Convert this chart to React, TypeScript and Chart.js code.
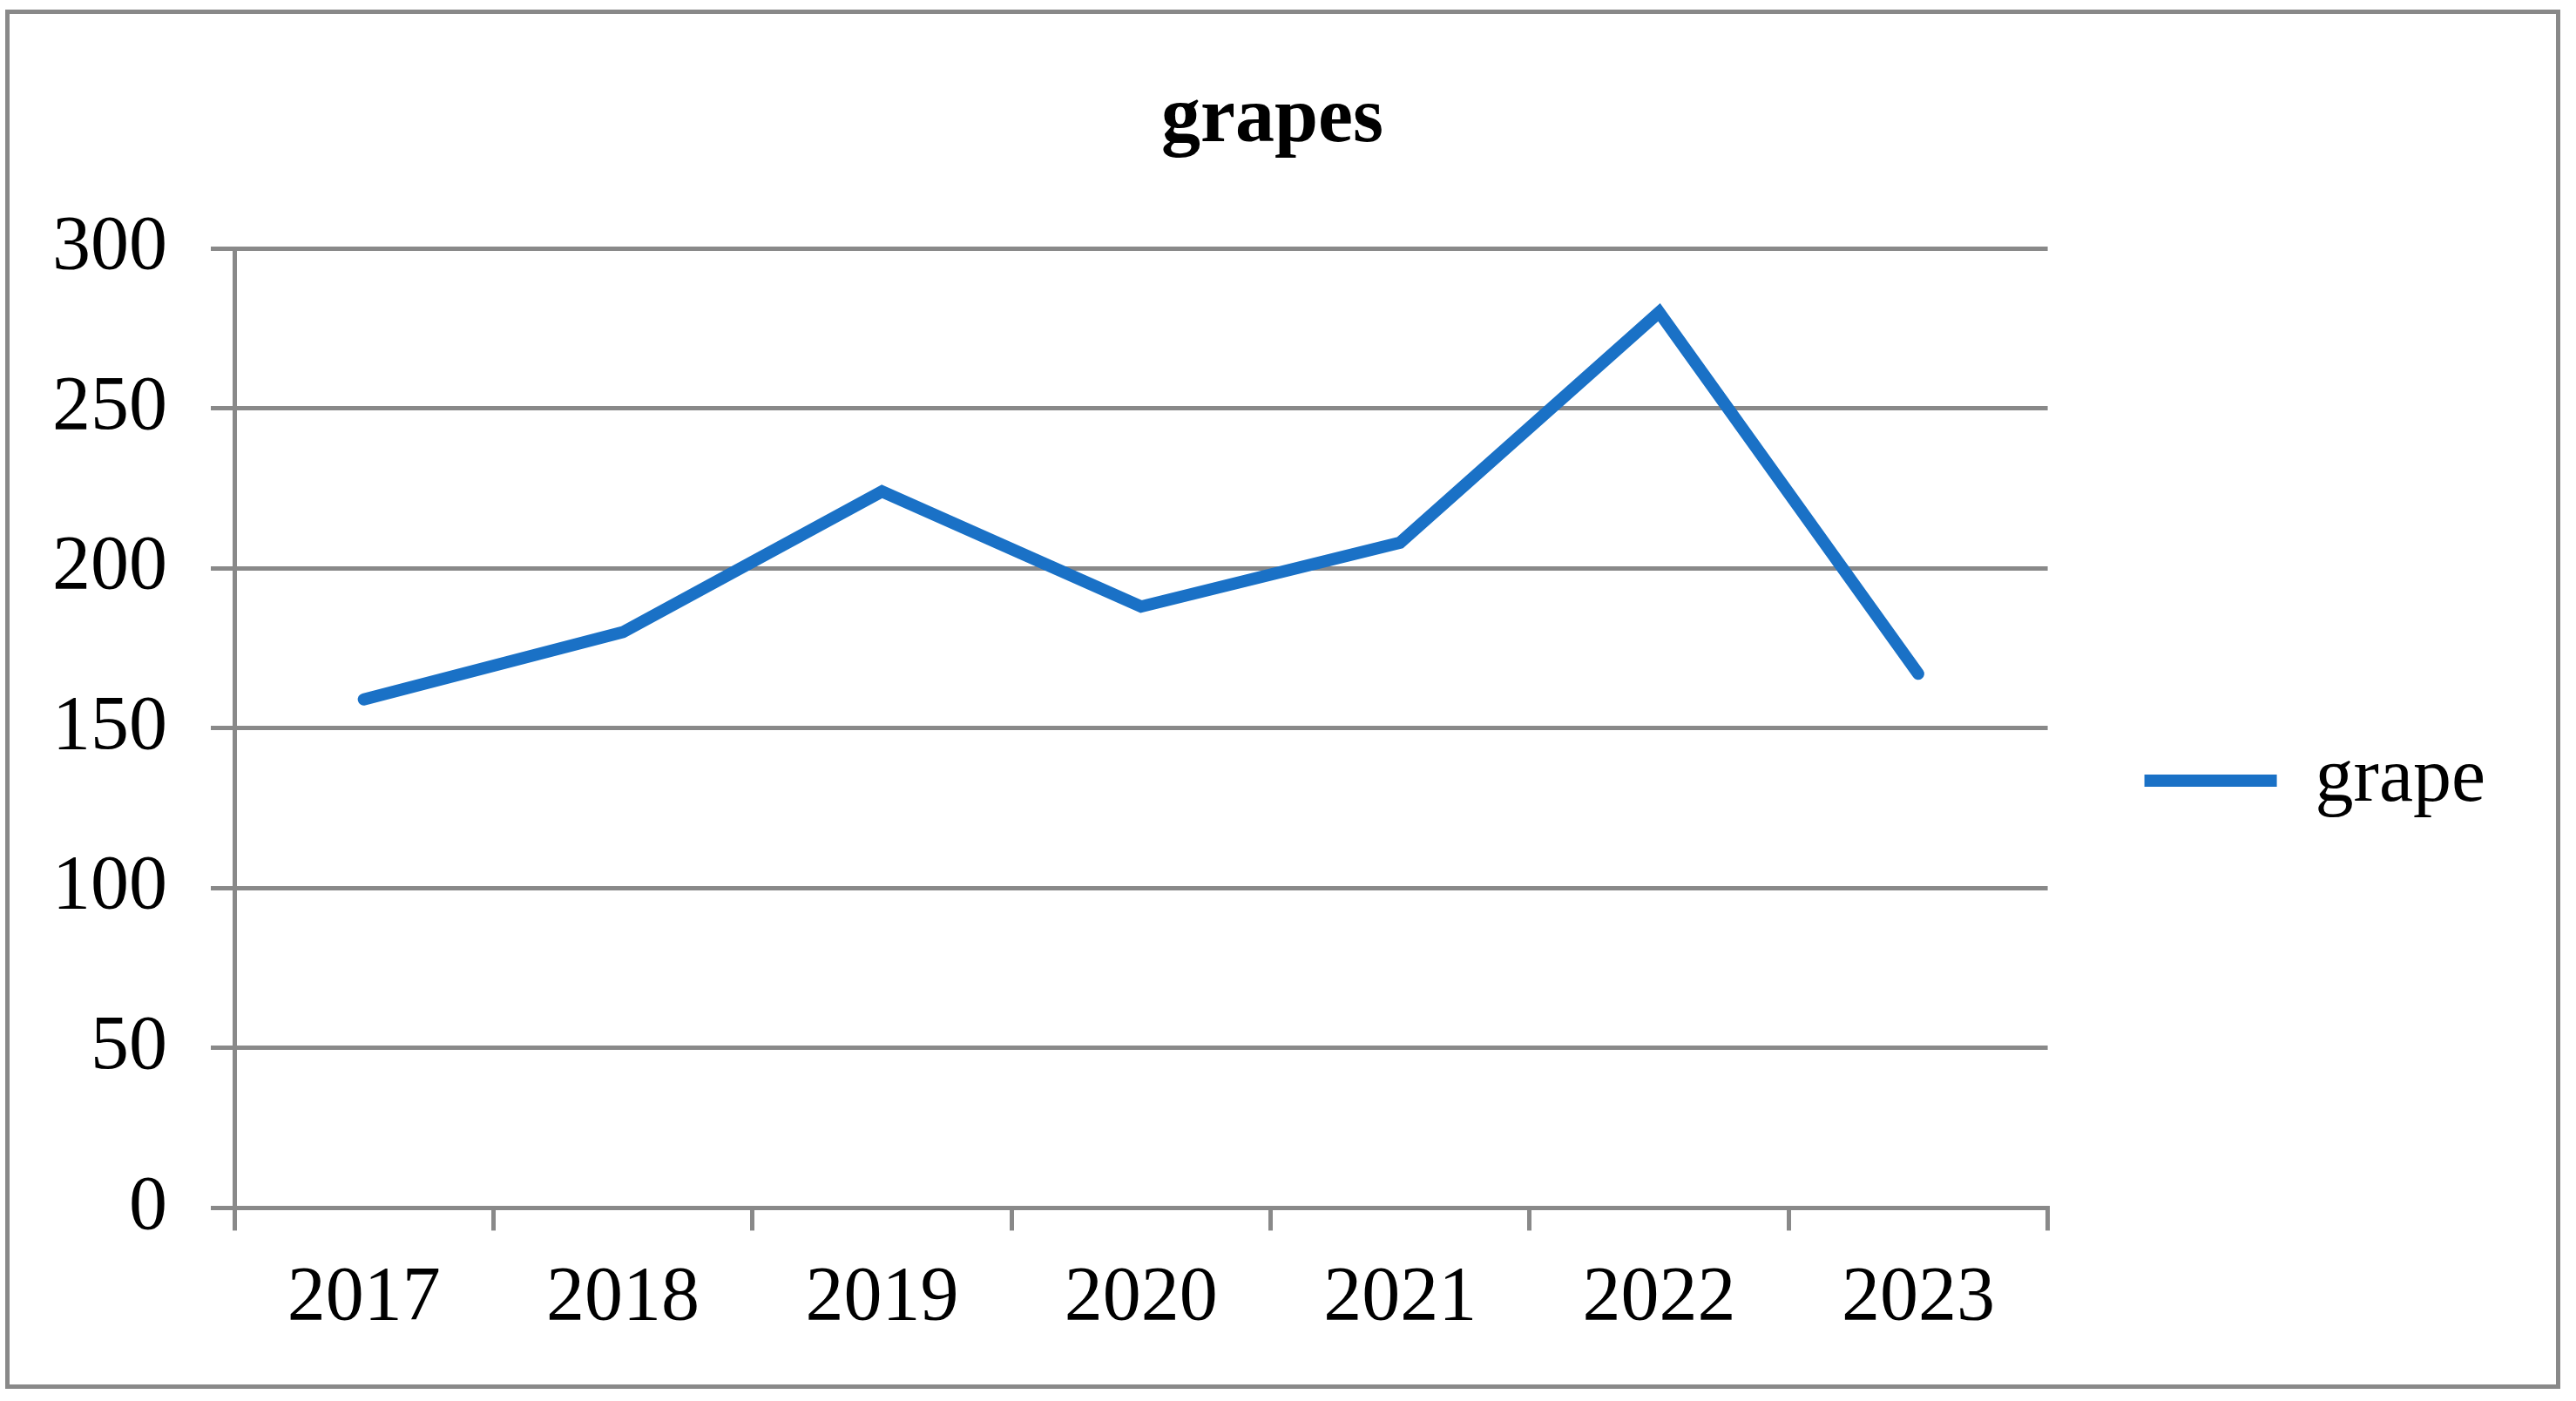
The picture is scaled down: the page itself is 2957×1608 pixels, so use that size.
import { Chart, registerables } from "chart.js";
import { useEffect, useRef } from "react";

Chart.register(...registerables);

const years = ["2017", "2018", "2019", "2020", "2021", "2022", "2023"];
const grape = [159, 180, 224, 188, 208, 280, 167];
const yTicks = [0, 50, 100, 150, 200, 250, 300];

const serif = "'Liberation Serif', 'Times New Roman', serif";
const gray = "#898989";
const blue = "#1a71c6";

export default function App() {
  const canvasRef = useRef<HTMLCanvasElement>(null);

  useEffect(() => {
    if (!canvasRef.current) return;
    const chart = new Chart(canvasRef.current, {
      type: "line",
      data: {
        labels: years,
        datasets: [
          {
            label: "grape",
            data: grape,
            borderColor: blue,
            backgroundColor: blue,
            borderWidth: 14,
            borderCapStyle: "round",
            borderJoinStyle: "miter",
            pointRadius: 0,
            tension: 0,
            fill: false,
          },
        ],
      },
      options: {
        responsive: true,
        maintainAspectRatio: false,
        animation: false,
        layout: { padding: { left: 58, right: 94, top: 20, bottom: 38 } },
        plugins: {
          tooltip: { enabled: false },
          title: {
            display: true,
            text: "grapes",
            color: "#000",
            font: { family: serif, size: 90, weight: "bold" },
            padding: { top: 65, bottom: 92 },
          },
          legend: {
            position: "right",
            // empty title only pushes the legend entry down to where it sits in the original
            title: { display: true, text: "", font: { size: 10 }, padding: { top: 190, bottom: 0 } },
            labels: {
              usePointStyle: true,
              pointStyle: "line",
              pointStyleWidth: 152,
              padding: 111,
              color: "#000",
              font: { family: serif, size: 88 },
            },
          },
        },
        scales: {
          x: {
            offset: true,
            grid: {
              display: true,
              offset: true,
              drawOnChartArea: false,
              drawTicks: true,
              tickLength: 26,
              color: gray,
              lineWidth: 5,
            },
            border: { display: true, color: gray, width: 5 },
            ticks: { color: "#000", padding: 26, maxRotation: 0, font: { family: serif, size: 88 } },
          },
          y: {
            min: 0,
            max: 300,
            afterFit: (scale) => {
              scale.width = 211;
            },
            afterBuildTicks: (scale) => {
              scale.ticks = yTicks.map((v) => ({ value: v }));
            },
            grid: { color: gray, lineWidth: 5, tickLength: 27, drawTicks: true },
            border: { display: true, color: gray, width: 5 },
            ticks: { color: "#000", padding: 50, font: { family: serif, size: 88 } },
          },
        },
      },
    });
    return () => chart.destroy();
  }, []);

  return (
    <div style={{ position: "fixed", left: 0, top: 0, width: 2957, height: 1608, background: "#fff" }}>
      <canvas ref={canvasRef} />
      <div
        style={{
          position: "absolute",
          left: 6,
          top: 11,
          width: 2933,
          height: 1583,
          border: `5px solid ${gray}`,
          boxSizing: "border-box",
          pointerEvents: "none",
        }}
      />
    </div>
  );
}
